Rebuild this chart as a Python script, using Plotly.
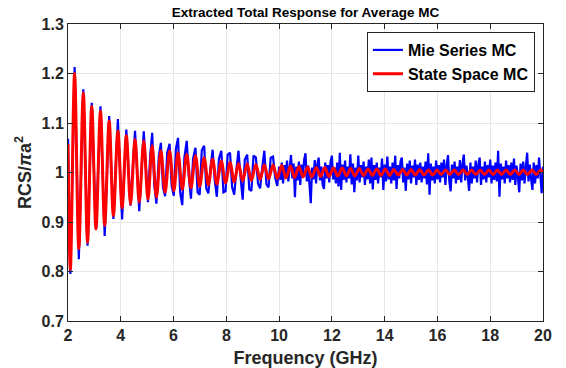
import numpy as np
import plotly.graph_objects as go

# ---------------- data ----------------
# State Space MC: extrema of the damped oscillation
red_peak_freq = [2.25, 2.58, 2.90, 3.23, 3.56, 3.89, 4.21, 4.54, 4.87, 5.19,
                 5.52, 5.85, 6.17, 6.50, 6.83, 7.16, 7.48, 7.81, 8.14, 8.46,
                 8.79, 9.12, 9.44, 9.77, 10.10, 10.43, 10.75, 11.08, 11.41, 11.73,
                 12.06, 12.39, 12.71, 13.04, 13.37, 13.70, 14.02, 14.35, 14.68, 15.00,
                 15.33, 15.66, 15.98, 16.31, 16.64, 16.97, 17.29, 17.62, 17.95, 18.27,
                 18.60, 18.93, 19.25, 19.58, 19.91]
red_peak_val = [1.200, 1.161, 1.134, 1.124, 1.104, 1.084, 1.074, 1.067, 1.064, 1.054,
                1.044, 1.044, 1.040, 1.037, 1.034, 1.030, 1.027, 1.023, 1.020, 1.018,
                1.017, 1.016, 1.015, 1.015, 1.014, 1.013, 1.012, 1.011, 1.010, 1.010,
                1.009, 1.009, 1.008, 1.008, 1.007, 1.007, 1.007, 1.006, 1.006, 1.006,
                1.006, 1.005, 1.005, 1.005, 1.005, 1.005, 1.005, 1.005, 1.005, 1.005,
                1.005, 1.005, 1.005, 1.005, 1.005]
red_trough_freq = [2.09, 2.41, 2.74, 3.06, 3.39, 3.72, 4.05, 4.37, 4.70, 5.03,
                   5.35, 5.68, 6.01, 6.33, 6.66, 6.99, 7.32, 7.64, 7.97, 8.30,
                   8.62, 8.95, 9.28, 9.60, 9.93, 10.26, 10.59, 10.91, 11.24, 11.57,
                   11.89, 12.22, 12.55, 12.87, 13.20, 13.53, 13.86, 14.18, 14.51, 14.84,
                   15.16, 15.49, 15.82, 16.14, 16.47, 16.80, 17.13, 17.45, 17.78, 18.11,
                   18.43, 18.76, 19.09, 19.41, 19.74]
red_trough_val = [0.805, 0.846, 0.859, 0.886, 0.893, 0.913, 0.929, 0.936, 0.940, 0.946,
                  0.950, 0.960, 0.963, 0.966, 0.969, 0.972, 0.975, 0.977, 0.979, 0.981,
                  0.983, 0.984, 0.986, 0.987, 0.988, 0.989, 0.990, 0.991, 0.991, 0.992,
                  0.992, 0.993, 0.993, 0.993, 0.994, 0.994, 0.994, 0.994, 0.995, 0.995,
                  0.995, 0.995, 0.995, 0.996, 0.996, 0.996, 0.996, 0.996, 0.996, 0.996,
                  0.996, 0.996, 0.996, 0.996, 0.996]
red_edge_freq = [2.0, 20.0]
red_edge_val = [1.057, 1.0]

# Mie Series MC: low-frequency part (follows the oscillation)
blue_lo_freq = [2.00, 2.09, 2.25, 2.41, 2.58, 2.74, 2.90, 3.06, 3.23, 3.39,
                3.56, 3.72, 3.89, 4.05, 4.21, 4.37, 4.54, 4.70, 4.87, 5.03,
                5.11, 5.19, 5.27, 5.35, 5.44, 5.52, 5.60, 5.68, 5.76, 5.85,
                5.93, 6.01, 6.09, 6.17, 6.25, 6.33, 6.41, 6.50, 6.58, 6.66,
                6.74, 6.83, 6.91, 6.99, 7.07, 7.16, 7.24, 7.32, 7.40, 7.48,
                7.56, 7.64, 7.72, 7.81, 7.89, 7.97, 8.05, 8.14, 8.22, 8.30,
                8.38, 8.46, 8.54, 8.62, 8.70, 8.79, 8.87, 8.95, 9.03, 9.12,
                9.20, 9.28, 9.36, 9.44, 9.52, 9.60, 9.68, 9.77, 9.85, 9.93]
blue_lo_val = [1.068, 0.795, 1.213, 0.825, 1.168, 0.852, 1.141, 0.884, 1.134, 0.872,
               1.114, 0.906, 1.108, 0.905, 1.087, 0.933, 1.084, 0.922, 1.083, 0.940,
               1.030, 1.080, 0.975, 0.937, 1.032, 1.060, 0.970, 0.952, 1.040, 1.058,
               0.972, 0.953, 1.048, 1.070, 0.960, 0.934, 1.030, 1.064, 0.990, 0.947,
               1.028, 1.050, 0.960, 0.955, 1.045, 1.054, 0.968, 0.958, 1.010, 1.046,
               0.985, 0.951, 1.028, 1.044, 0.960, 0.962, 1.036, 1.040, 0.970, 0.955,
               1.005, 1.044, 0.990, 0.945, 1.026, 1.036, 0.966, 0.963, 1.034, 1.030,
               0.978, 0.968, 1.010, 1.044, 0.976, 0.970, 1.030, 1.032, 0.990, 0.973]

# Mie Series MC: high-frequency part, sampled every 0.05 GHz from 10 to 20
blue_hi_val = [1.012, 0.985, 1.020, 0.978, 1.015, 0.990, 1.024, 0.982, 1.010, 1.035,
               0.988, 1.018, 0.950, 1.012, 0.984, 1.022, 0.975, 1.016, 0.990, 1.026,
               1.039, 0.982, 1.014, 0.970, 0.938, 1.010, 0.986, 1.025, 0.978, 1.018,
               1.030, 0.984, 1.012, 0.975, 0.967, 1.020, 0.988, 1.015, 0.980, 1.022,
               1.034, 0.986, 1.010, 0.978, 1.020, 0.972, 1.040, 0.965, 1.016, 0.985,
               1.024, 0.980, 1.012, 0.988, 1.037, 0.976, 1.018, 0.960, 1.010, 0.984,
               1.034, 0.980, 1.015, 0.990, 1.022, 0.975, 1.012, 0.986, 1.026, 0.978,
               1.030, 0.966, 1.015, 0.985, 1.020, 0.978, 1.010, 0.990, 1.028, 0.965,
               1.016, 0.982, 1.032, 0.986, 1.012, 0.978, 1.020, 0.984, 1.034, 0.967,
               1.015, 0.988, 1.022, 1.030, 0.980, 1.010, 0.963, 1.018, 0.986, 1.024,
               0.978, 1.014, 0.990, 1.026, 0.975, 1.016, 0.985, 1.020, 0.980, 1.012,
               0.988, 1.022, 0.976, 1.039, 0.955, 1.018, 0.984, 1.012, 0.978, 1.024,
               0.986, 1.015, 0.980, 1.020, 0.990, 1.026, 0.975, 1.014, 1.035, 0.982,
               0.962, 1.016, 0.988, 1.022, 0.978, 1.012, 0.985, 1.025, 0.980, 1.018,
               1.036, 0.984, 1.014, 0.990, 0.963, 1.020, 0.978, 1.012, 0.988, 1.024,
               0.980, 1.016, 1.030, 0.975, 1.012, 0.986, 1.022, 0.980, 1.015, 0.990,
               1.026, 0.978, 1.014, 0.985, 1.020, 0.982, 1.044, 0.951, 1.018, 0.986,
               1.012, 0.978, 1.024, 0.988, 1.015, 0.980, 1.020, 0.985, 1.028, 0.975,
               1.014, 0.990, 0.960, 1.018, 0.984, 1.022, 0.978, 1.012, 1.040, 0.982,
               1.016, 0.986, 0.965, 1.020, 0.978, 1.015, 0.988, 1.030, 0.980, 0.958,
               1.012]
blue_hi_freq = list(np.round(np.linspace(10.0, 20.0, len(blue_hi_val)), 3))

x_ticks = [2, 4, 6, 8, 10, 12, 14, 16, 18, 20]
y_ticks = [0.7, 0.8, 0.9, 1.0, 1.1, 1.2, 1.3]
y_tick_text = ["0.7", "0.8", "0.9", "1", "1.1", "1.2", "1.3"]

# ---------------- assemble series ----------------
red_pts = sorted(zip(red_peak_freq + red_trough_freq + red_edge_freq,
                     red_peak_val + red_trough_val + red_edge_val))
red_x = [p[0] for p in red_pts]
red_y = [p[1] for p in red_pts]

blue_x = blue_lo_freq + blue_hi_freq
blue_y = blue_lo_val + blue_hi_val

FONT = "Arial, Liberation Sans, Helvetica, sans-serif"

fig = go.Figure()
fig.add_trace(go.Scatter(x=blue_x, y=blue_y, mode="lines", name="Mie Series MC",
                         line=dict(color="#0000ff", width=2.2)))
fig.add_trace(go.Scatter(x=red_x, y=red_y, mode="lines", name="State Space MC",
                         line=dict(color="#ff0000", width=3, shape="spline", smoothing=1)))

axis_common = dict(
    showline=True, linecolor="#262626", linewidth=1, mirror="ticks",
    ticks="inside", ticklen=5, tickcolor="#262626",
    showgrid=True, gridcolor="#e6e6e6", gridwidth=1, zeroline=False,
    automargin=False,
    tickfont=dict(family=FONT, size=16, color="#262626", weight="bold"),
)

fig.update_layout(
    width=566, height=368,
    margin=dict(l=68, r=23, t=24, b=47),
    paper_bgcolor="white", plot_bgcolor="white",
    title=dict(text="Extracted Total Response for Average MC",
               font=dict(family=FONT, size=13.5, color="black", weight="bold"),
               x=0.5, xref="paper", xanchor="center",
               y=1 - 12 / 368, yref="container", yanchor="middle"),
    xaxis=dict(range=[2, 20], tickvals=x_ticks,
               title=dict(text="Frequency (GHz)", standoff=8,
                          font=dict(family=FONT, size=18, color="#262626", weight="bold")),
               **axis_common),
    yaxis=dict(range=[0.7, 1.3], tickvals=y_ticks, ticktext=y_tick_text,
               title=dict(text="RCS/<i>π</i>a<sup>2</sup>", standoff=5,
                          font=dict(family=FONT, size=18, color="#262626", weight="bold")),
               **axis_common),
    legend=dict(x=0.983, y=0.973, xanchor="right", yanchor="top",
                bgcolor="white", bordercolor="#262626", borderwidth=1,
                font=dict(family=FONT, size=16, color="black", weight="bold"),
                itemwidth=30, tracegroupgap=0),
    showlegend=True,
)

fig.write_html("out.html")
